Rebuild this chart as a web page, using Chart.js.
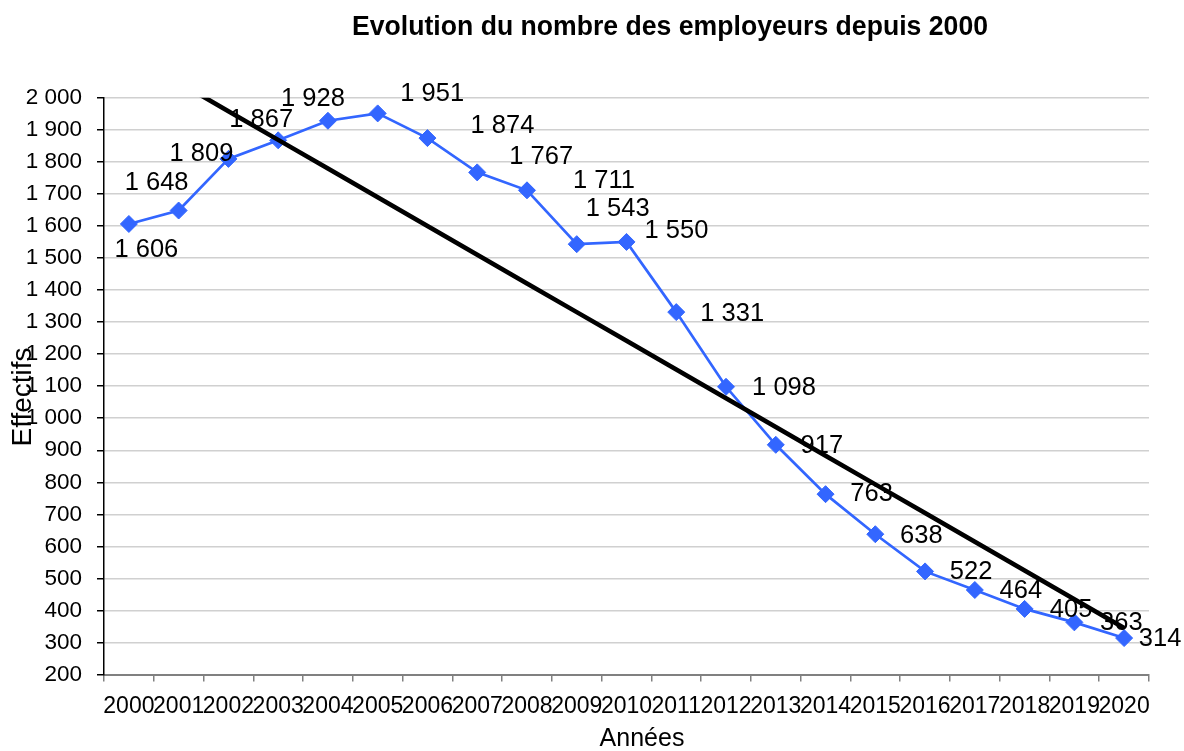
<!DOCTYPE html>
<html><head><meta charset="utf-8">
<script src="https://cdn.jsdelivr.net/npm/chart.js@4"></script>
<style>html,body{margin:0;padding:0;background:#fff}canvas{display:block}</style>
</head><body>
<canvas id="c" width="1184" height="751" style="width:1184px;height:751px"></canvas>
<script>
const categories = ['2000','2001','2002','2003','2004','2005','2006','2007','2008','2009','2010','2011','2012','2013','2014','2015','2016','2017','2018','2019','2020'];
const employeurs = [1606,1648,1809,1867,1928,1951,1874,1767,1711,1543,1550,1331,1098,917,763,638,522,464,405,363,314];
const yMin = 200, yMax = 2000, yStep = 100;
const titleText = 'Evolution du nombre des employeurs depuis 2000';
const xTitleText = 'Années';
const yTitleText = 'Effectifs';

// Excel-style linear trendline (least squares over the series)
function linearTrend(ys) {
  const n = ys.length;
  let sx = 0, sy = 0, sxy = 0, sxx = 0;
  ys.forEach((y, i) => { sx += i; sy += y; sxy += i * y; sxx += i * i; });
  const b = (n * sxy - sx * sy) / (n * sxx - sx * sx);
  const a = (sy - b * sx) / n;
  return ys.map((_, i) => a + b * i);
}
const trend = linearTrend(employeurs);

const FONT = "'Liberation Sans', Arial, sans-serif";
const fmt = v => Math.round(v).toString().replace(/\B(?=(\d{3})+(?!\d))/g, ' ');

// label placement (pixel offsets from each marker, as in the reference layout)
const labelOffsets = [[17.5,26],[-22,-28],[-27,-5],[-17,-20],[-15,-22],[54.5,-19],[75,-12],[64,-15],[77,-9],[41,-35],[50,-11],[56,2],[58,1],[46,1],[46,0],[46,2],[46,1],[46,1],[46.5,1.5],[47,1],[36,0.5]];

function drawSquashed(ctx, text, x, y, targetW) {
  const w = ctx.measureText(text).width;
  const k = targetW ? Math.min(1, targetW / w) : 1;
  ctx.save();
  ctx.translate(x, y);
  ctx.scale(k, 1);
  ctx.fillText(text, 0, 0);
  ctx.restore();
}

const dataLabels = {
  id: 'dataLabels',
  afterDatasetDraw(chart, args) {
    if (args.index !== 0) return;
    const ctx = chart.ctx;
    const meta = chart.getDatasetMeta(0);
    ctx.save();
    ctx.font = '25.5px ' + FONT;
    ctx.fillStyle = '#000';
    ctx.textAlign = 'center';
    ctx.textBaseline = 'middle';
    meta.data.forEach((pt, i) => {
      const o = labelOffsets[i] || [0, 0];
      ctx.fillText(fmt(employeurs[i]), pt.x + o[0], pt.y + o[1]);
    });
    ctx.restore();
  }
};

const texts = {
  id: 'texts',
  afterDraw(chart) {
    const ctx = chart.ctx;
    ctx.save();
    ctx.fillStyle = '#000';
    ctx.textAlign = 'center';
    ctx.textBaseline = 'middle';
    ctx.font = 'bold 28px ' + FONT;
    drawSquashed(ctx, titleText, 670, 27, 636);
    ctx.font = '25px ' + FONT;
    ctx.fillText(xTitleText, 642, 739);
    ctx.translate(23, 397);
    ctx.rotate(-Math.PI / 2);
    ctx.font = '28px ' + FONT;
    ctx.fillText(yTitleText, 0, 0);
    ctx.restore();
  }
};

new Chart(document.getElementById('c'), {
  type: 'line',
  data: {
    labels: categories,
    datasets: [
      {
        label: 'Employeurs',
        data: employeurs,
        borderColor: '#3366ff',
        backgroundColor: '#3366ff',
        borderWidth: 2.7,
        pointStyle: 'rectRot',
        pointRadius: 8.5,
        pointBorderWidth: 1,
        pointHoverRadius: 8.5,
        tension: 0,
        order: 2
      },
      {
        label: 'Tendance',
        data: trend,
        borderColor: '#000',
        borderWidth: 4.6,
        pointRadius: 0,
        pointHoverRadius: 0,
        tension: 0,
        order: 1
      }
    ]
  },
  options: {
    responsive: false,
    animation: false,
    devicePixelRatio: 1,
    layout: { padding: { top: 97.7, right: 35, left: 0, bottom: 0 } },
    plugins: { legend: { display: false }, title: { display: false }, tooltip: { enabled: false } },
    scales: {
      x: {
        type: 'category',
        offset: true,
        afterFit(s) { s.height = 76.4; },
        grid: { offset: true, drawOnChartArea: false, drawTicks: true, tickLength: 7, tickColor: '#808080', lineWidth: 1.5 },
        border: { color: '#808080', width: 2 },
        ticks: { color: '#000', font: { family: FONT, size: 23 }, maxRotation: 0, minRotation: 0, autoSkip: false, padding: 11 }
      },
      y: {
        min: yMin, max: yMax,
        afterFit(s) { s.width = 104; },
        grid: { color: '#d0d0d0', lineWidth: 1.5, tickColor: '#000', tickLength: 7 },
        border: { color: '#000', width: 1.5 },
        ticks: { stepSize: yStep, color: '#000', font: { family: FONT, size: 22.5 }, padding: 15, callback: v => fmt(v) }
      }
    }
  },
  plugins: [dataLabels, texts]
});
</script>
</body></html>
